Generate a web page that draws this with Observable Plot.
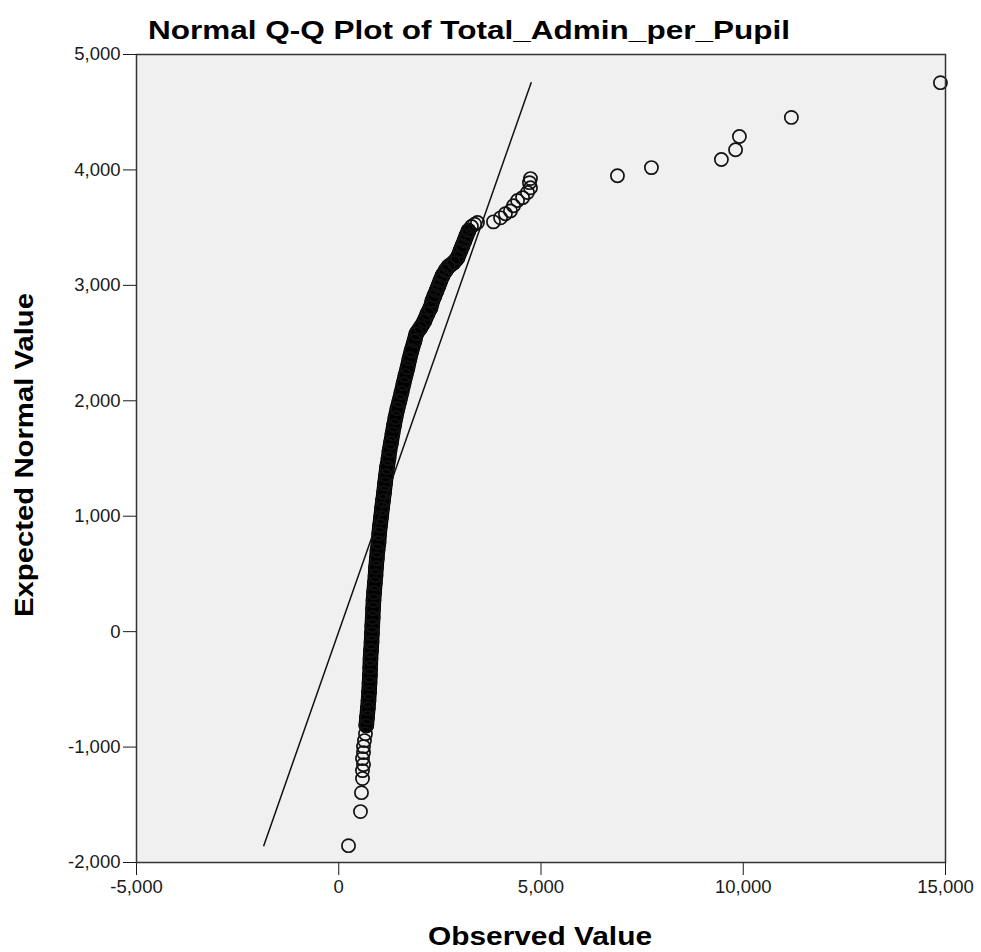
<!DOCTYPE html>
<html><head><meta charset="utf-8">
<script src="https://cdn.jsdelivr.net/npm/d3@7"></script>
<script src="https://cdn.jsdelivr.net/npm/@observablehq/plot@0.6"></script>
<style>
body{margin:0;background:#fff}
#chart svg{display:block}
</style>
</head><body><div id="chart"></div>
<script>
// Dense central part of the Q-Q curve (observed value, expected normal value)
const bandObserved = [661,681,698,718,735,748,760,770,778,785,797,810,820,829,839,849,859,874,891,909,921,941,958,983,1000,1020,1045,1069,1094,1119,1143,1168,1193,1230,1255,1292,1329,1366,1403,1452,1502,1551,1601,1650,1700,1749,1799,1873,1922,2021,2120,2194,2268,2318,2367,2417,2466,2515,2565,2639,2713,2837,2936,3010,3059,3109,3158,3208];
const bandExpected = [-884,-814,-745,-667,-598,-528,-450,-381,-312,-234,-165,-95,-17,52,121,199,269,338,416,485,554,632,702,771,849,918,988,1066,1135,1204,1282,1351,1421,1499,1568,1637,1715,1785,1854,1932,2001,2071,2148,2218,2287,2365,2434,2521,2582,2634,2694,2755,2807,2868,2911,2954,2997,3041,3084,3127,3162,3197,3240,3301,3344,3387,3431,3474];
// Sparse tails (observed value, expected normal value)
const tailObserved = [241,537,562,587,587,612,587,612,612,636,3280,3360,3430,3825,4000,4120,4245,4320,4420,4545,4665,4740,4715,4740,6890,7730,9460,9810,9905,11190,14875];
const tailExpected = [-1854,-1559,-1395,-1273,-1204,-1152,-1100,-1048,-996,-944,3510,3530,3545,3550,3585,3620,3645,3690,3735,3760,3805,3845,3890,3925,3950,4020,4090,4175,4290,4455,4756];

const xTicks = [-5000, 0, 5000, 10000, 15000];
const yTicks = [-2000, -1000, 0, 1000, 2000, 3000, 4000, 5000];
const titleText = "Normal Q-Q Plot of Total_Admin_per_Pupil";
const xLabel = "Observed Value";
const yLabel = "Expected Normal Value";

const band = bandObserved.map((o, i) => ({observed: o, expected: bandExpected[i]}));
const tail = tailObserved.map((o, i) => ({observed: o, expected: tailExpected[i]}));
const all = band.concat(tail);
const ext = d3.extent(all, d => d.expected);
const refLine = ext.map(v => ({observed: v, expected: v}));

const fmt = d => d.toLocaleString("en-US");

const svg = Plot.plot({
  width: 981, height: 952,
  marginTop: 54, marginBottom: 90, marginLeft: 136, marginRight: 36,
  style: {fontFamily: "'Liberation Sans', Arial, sans-serif", fontSize: "18.5px", color: "#1a1a1a", background: "#fff"},
  x: {domain: [-5000, 15000], ticks: xTicks, tickFormat: fmt, tickSize: 13, tickPadding: 4, label: null},
  y: {domain: [-2000, 5000], ticks: yTicks, tickFormat: fmt, tickSize: 13, tickPadding: 3, label: null},
  marks: [
    Plot.frame({fill: "#f0f0f0", stroke: "none"}),
    Plot.dot(band.filter(d => d.expected > -850), {x: "observed", y: "expected", r: 7.8, fill: "#000", stroke: "none"}),
    Plot.line(band.filter(d => d.expected > -850), {x: "observed", y: "expected", stroke: "#000", strokeWidth: 15.5, strokeLinecap: "round", strokeLinejoin: "round", curve: "catmull-rom"}),
    Plot.line(refLine, {x: "observed", y: "expected", stroke: "#111", strokeWidth: 1.5}),
    Plot.dot(all, {x: "observed", y: "expected", r: 6.6, stroke: "#111", strokeWidth: 1.7, fill: "none"}),
    Plot.frame({stroke: "#333", strokeWidth: 1.5})
  ]
});

const s = d3.select(svg);
s.append("text").text(titleText)
  .attr("x", 148).attr("y", 39).attr("text-anchor", "start")
  .attr("font-size", 26).attr("font-weight", "bold").attr("fill", "#000")
  .attr("textLength", 642).attr("lengthAdjust", "spacingAndGlyphs");
s.append("text").text(xLabel)
  .attr("x", 540).attr("y", 945).attr("text-anchor", "middle")
  .attr("font-size", 25).attr("font-weight", "bold").attr("fill", "#000")
  .attr("textLength", 224).attr("lengthAdjust", "spacingAndGlyphs");
s.append("text").text(yLabel)
  .attr("transform", "translate(33,455) rotate(-90)").attr("text-anchor", "middle")
  .attr("font-size", 25).attr("font-weight", "bold").attr("fill", "#000")
  .attr("textLength", 324).attr("lengthAdjust", "spacingAndGlyphs");

document.getElementById("chart").appendChild(svg);
</script>
</body></html>
